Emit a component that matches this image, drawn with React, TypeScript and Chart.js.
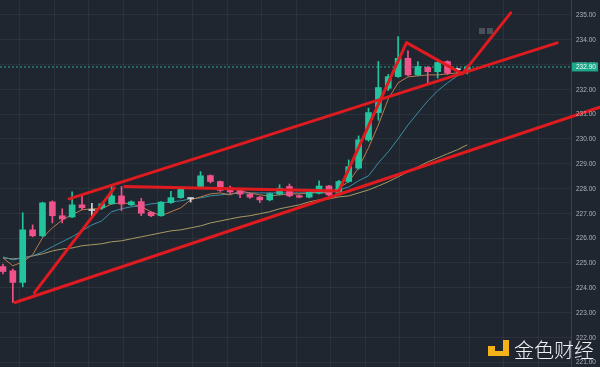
import React, { useEffect, useRef } from 'react';
import { Chart, registerables } from 'chart.js';

Chart.register(...registerables);

// ---- candle data (index 0..47) ----
const opens = [224.85, 224.68, 224.21, 226.33, 226.09, 227.46, 226.90, 226.85, 227.34, 227.11, 227.22, 227.38, 227.70, 227.34, 227.47, 227.04, 226.90, 227.43, 227.63, 227.59, 228.08, 228.52, 228.28, 228.02, 227.92, 227.77, 227.65, 227.54, 227.77, 228.08, 227.71, 227.65, 227.81, 228.10, 227.81, 228.28, 228.82, 229.96, 231.06, 232.04, 232.51, 233.25, 232.58, 232.88, 232.71, 233.12, 232.79, 232.80];
const closes = [224.65, 224.21, 226.33, 226.09, 227.42, 226.90, 226.77, 227.34, 227.22, 227.11, 227.38, 227.70, 227.37, 227.46, 227.00, 226.90, 227.45, 227.63, 227.97, 227.59, 228.51, 228.28, 227.92, 227.86, 227.77, 227.65, 227.54, 227.79, 228.01, 227.70, 227.65, 227.85, 228.10, 227.74, 228.28, 228.88, 229.96, 231.06, 232.07, 232.51, 233.25, 232.58, 232.92, 232.71, 233.08, 232.65, 232.79, 232.90];
const highs = [224.95, 224.75, 227.02, 226.53, 227.45, 227.50, 227.18, 227.86, 227.74, 227.40, 227.40, 228.15, 228.08, 227.50, 227.60, 227.06, 227.47, 227.88, 228.00, 227.62, 228.68, 228.55, 228.30, 228.10, 227.95, 227.80, 227.68, 227.82, 228.15, 228.18, 227.74, 227.88, 228.31, 228.13, 228.33, 229.15, 230.12, 231.24, 233.12, 232.60, 234.12, 233.55, 233.12, 232.92, 233.12, 233.15, 232.85, 232.95];
const lows = [224.55, 223.40, 224.03, 226.05, 226.05, 226.61, 226.61, 226.82, 227.14, 226.90, 227.16, 227.36, 227.10, 227.30, 226.90, 226.86, 226.88, 227.40, 227.60, 227.45, 228.05, 228.22, 227.88, 227.80, 227.63, 227.60, 227.43, 227.50, 227.74, 227.66, 227.62, 227.62, 227.78, 227.70, 227.78, 228.25, 228.78, 229.90, 230.75, 231.95, 232.48, 232.55, 232.55, 232.24, 232.45, 232.60, 232.65, 232.62];

// ---- moving averages ----
const maFast = [225.20, 224.88, 225.04, 225.32, 226.01, 226.41, 226.73, 226.94, 227.14, 227.18, 227.18, 227.38, 227.42, 227.38, 227.26, 227.06, 226.90, 227.06, 227.22, 227.54, 227.66, 227.78, 227.82, 227.74, 227.90, 227.82, 227.74, 227.70, 227.74, 227.78, 227.78, 227.82, 227.86, 227.82, 228.02, 228.27, 228.83, 229.64, 230.56, 231.61, 232.26, 232.50, 232.54, 232.58, 232.58, 232.62, 232.66, 232.70];
const maMid = [225.24, 225.12, 225.20, 225.28, 225.44, 225.65, 225.85, 226.05, 226.29, 226.53, 226.69, 227.06, 227.18, 227.26, 227.30, 227.38, 227.42, 227.46, 227.50, 227.58, 227.62, 227.70, 227.74, 227.78, 227.82, 227.82, 227.82, 227.82, 227.82, 227.82, 227.82, 227.82, 227.82, 227.82, 227.94, 228.06, 228.31, 228.51, 229.03, 229.48, 230.00, 230.56, 231.05, 231.53, 231.94, 232.26, 232.54, 232.70];
const maSlow = [225.20, 225.16, 225.20, 225.28, 225.36, 225.48, 225.56, 225.60, 225.69, 225.73, 225.77, 225.85, 225.89, 225.97, 226.05, 226.13, 226.21, 226.29, 226.33, 226.41, 226.49, 226.61, 226.69, 226.77, 226.85, 226.90, 226.98, 227.06, 227.18, 227.26, 227.34, 227.46, 227.54, 227.58, 227.66, 227.70, 227.82, 227.94, 228.10, 228.27, 228.47, 228.67, 228.87, 229.07, 229.23, 229.40, 229.56, 229.76];

// ---- drawn trend lines (x = candle index, y = price) ----
const channelLower = [{ x: 1.22, y: 223.40 }, { x: 60.5, y: 231.29 }];
const channelUpper = [{ x: 6.69, y: 227.58 }, { x: 56.1, y: 233.87 }];
const leftImpulse = [{ x: 3.17, y: 223.79 }, { x: 11.28, y: 228.02 }];
const flatLine = [{ x: 12.36, y: 228.08 }, { x: 34.0, y: 227.90 }];
const zigzag = [{ x: 34.0, y: 227.90 }, { x: 40.85, y: 233.88 }, { x: 46.5, y: 232.62 }, { x: 51.4, y: 235.08 }];

const yTicks = [221, 222, 223, 224, 225, 226, 227, 228, 229, 230, 231, 232, 233, 234, 235];
const lastPrice = 232.90;
const watermark = '金色财经';

const X_MIN = -0.3;
const X_MAX = 57.5;
const Y_MIN = 220.8;
const Y_MAX = 235.6;

const BG = '#1f2630';
const UP = '#22c49e';
const DOWN = '#f0528a';
const DOJI = '#d4d8dc';
const RED = '#e01b1f';
const AXIS_FONT = '6.5px "Liberation Sans", Arial, sans-serif';

function candleColor(i: number) {
  if (closes[i] > opens[i]) return UP;
  if (closes[i] < opens[i]) return DOWN;
  return DOJI;
}

const bgPlugin = {
  id: 'bg',
  beforeDraw(chart: any) {
    const { ctx, width, height } = chart;
    ctx.save();
    ctx.fillStyle = BG;
    ctx.fillRect(0, 0, width, height);
    ctx.restore();
  },
};

const overlayPlugin = {
  id: 'overlay',
  afterDraw(chart: any) {
    const { ctx, chartArea } = chart;
    const yScale = chart.scales.y;
    ctx.save();
    // axis labels
    ctx.fillStyle = '#aab2ba';
    ctx.font = AXIS_FONT;
    ctx.textBaseline = 'middle';
    ctx.textAlign = 'left';
    yTicks.forEach((v) => {
      ctx.fillText(v.toFixed(2), chartArea.right + 5, yScale.getPixelForValue(v) + 0.5);
    });

    // current price tag
    const py = yScale.getPixelForValue(lastPrice);
    ctx.fillStyle = '#1ea98c';
    ctx.fillRect(chartArea.right + 1, py - 4.5, 26, 9);
    ctx.fillStyle = '#f2f6f5';
    ctx.fillText(lastPrice.toFixed(2), chartArea.right + 5, py + 0.5);

    // small ui buttons
    ctx.fillStyle = '#48505a';
    ctx.fillRect(479, 28, 6, 6);
    ctx.fillRect(487, 28, 6, 6);

    // watermark logo
    ctx.fillStyle = '#f4b21a';
    ctx.fillRect(488, 346, 7, 5);
    ctx.fillRect(503, 340, 6, 16);
    ctx.fillRect(488, 351, 21, 5);
    // watermark text
    ctx.fillStyle = '#eef0f2';
    ctx.font = '300 20px "Noto Sans CJK SC", sans-serif';
    ctx.textBaseline = 'alphabetic';
    ctx.fillText(watermark, 514, 358);
    ctx.restore();
  },
};

export default function App() {
  const ref = useRef<HTMLCanvasElement | null>(null);

  useEffect(() => {
    document.body.style.margin = '0';
    document.body.style.background = BG;
    const canvas = ref.current;
    if (!canvas) return;
    const idx = opens.map((_, i) => i);
    const lineDs = (label: string, data: any[], color: string, width: number, order: number, extra: any = {}) => ({
      type: 'line',
      label,
      data,
      borderColor: color,
      backgroundColor: color,
      borderWidth: width,
      pointRadius: 0,
      tension: 0,
      fill: false,
      clip: false,
      order,
      ...extra,
    });

    const chart = new Chart(canvas, {
      type: 'bar',
      data: {
        datasets: [
          lineDs('channelLower', channelLower, RED, 3, 0, { borderCapStyle: 'round' }),
          lineDs('channelUpper', channelUpper, RED, 3, 0, { borderCapStyle: 'round' }),
          lineDs('leftImpulse', leftImpulse, RED, 3, 0, { borderCapStyle: 'round' }),
          lineDs('flatLine', flatLine, RED, 3, 0, { borderCapStyle: 'round' }),
          lineDs('zigzag', zigzag, RED, 3, 0, { borderCapStyle: 'round', borderJoinStyle: 'round' }),
          {
            type: 'bar',
            label: 'body',
            data: idx.map((i) => ({ x: i, y: [opens[i], closes[i]] })),
            backgroundColor: idx.map(candleColor),
            barThickness: 6,
            minBarLength: 1,
            grouped: false,
            borderWidth: 0,
            order: 1,
          },
          {
            type: 'bar',
            label: 'wick',
            data: idx.map((i) => ({ x: i, y: [lows[i], highs[i]] })),
            backgroundColor: idx.map(candleColor),
            barThickness: 1,
            grouped: false,
            borderWidth: 0,
            order: 2,
          },
          lineDs('maFast', maFast.map((v, i) => ({ x: i, y: v })), '#b97b4e', 1, 3),
          lineDs('maMid', maMid.map((v, i) => ({ x: i, y: v })), '#3b8ea6', 1, 3),
          lineDs('maSlow', maSlow.map((v, i) => ({ x: i, y: v })), '#a69a62', 1, 3),
          lineDs('price', [{ x: X_MIN, y: lastPrice }, { x: X_MAX, y: lastPrice }], '#26a893', 1, 4, { borderDash: [2, 2], clip: true }),
        ] as any,
      },
      options: {
        animation: false,
        responsive: false,
        events: [],
        layout: { padding: 0 },
        plugins: { legend: { display: false }, tooltip: { enabled: false } },
        scales: {
          x: {
            type: 'linear',
            min: X_MIN,
            max: X_MAX,
            offset: false,
            afterBuildTicks: (scale: any) => {
              const t = [];
              for (let v = 3.44; v < X_MAX; v += 3.5) t.push({ value: v });
              scale.ticks = t;
            },
            ticks: { display: false },
            grid: { color: 'rgba(255,255,255,0.055)', drawTicks: false, lineWidth: 1 },
            border: { display: false },
          },
          y: {
            type: 'linear',
            position: 'right',
            min: Y_MIN,
            max: Y_MAX,
            afterBuildTicks: (scale: any) => {
              scale.ticks = yTicks.map((v) => ({ value: v }));
            },
            afterFit: (scale: any) => {
              scale.width = 29;
            },
            ticks: { display: false },
            grid: { color: 'rgba(255,255,255,0.055)', drawTicks: false },
            border: { display: true, color: '#3a434d', width: 1 },
          },
        },
      } as any,
      plugins: [bgPlugin, overlayPlugin],
    });
    return () => chart.destroy();
  }, []);

  return (
    <div style={{ width: 600, height: 367 }}>
      <canvas ref={ref} width={600} height={367} style={{ display: 'block' }} />
    </div>
  );
}
